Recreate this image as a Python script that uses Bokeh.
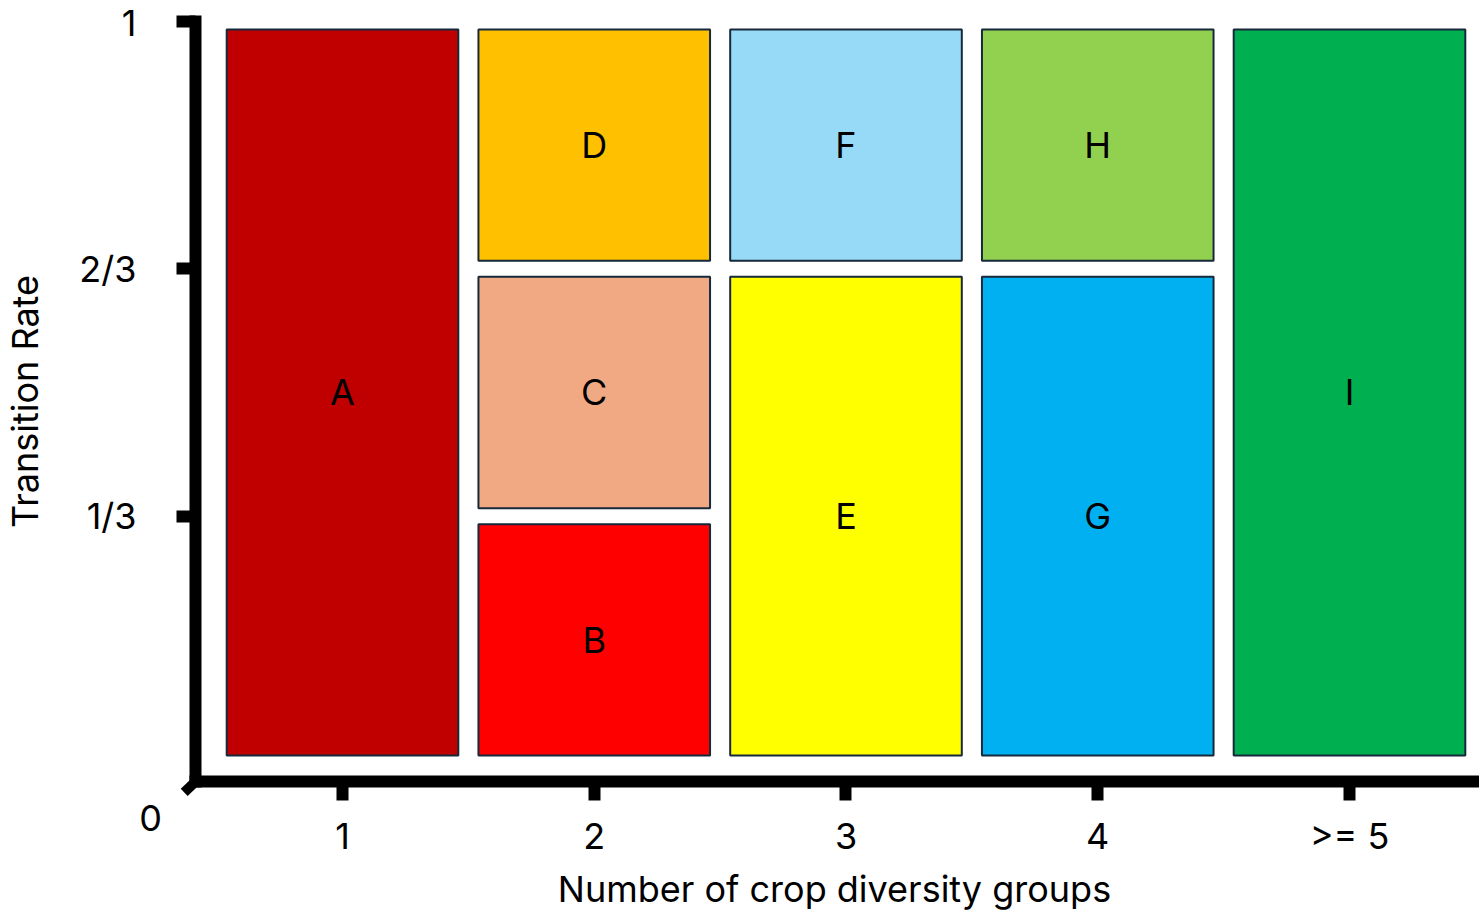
from bokeh.plotting import figure
from bokeh.models import Range1d, FixedTicker, ColumnDataSource, CustomJSTickFormatter
from bokeh.core.properties import value
from bokeh.embed import file_html
from bokeh.resources import INLINE

# ---- data ----
groups = [1, 2, 3, 4, 5]
group_labels = ["1", "2", "3", "4", ">= 5"]

cells = ["A", "B", "C", "D", "E", "F", "G", "H", "I"]
cell_group = [1, 2, 2, 2, 3, 3, 4, 4, 5]
cell_low = [0, 0, 1/3, 2/3, 0, 2/3, 0, 2/3, 0]
cell_high = [1, 1/3, 2/3, 1, 2/3, 1, 2/3, 1, 1]
cell_colors = ["#C00000", "#FF0000", "#F1A983", "#FFC000", "#FFFF00",
               "#97DAF7", "#00B0F0", "#92D050", "#00B050"]

y_ticks = [1/3, 2/3, 1]
y_tick_labels = ["1/3", "2/3", "1"]
origin_label = "0"

FONT = "Inter"
FS = "36px"

# ---- layout (data units) ----
half_w = 0.46          # half width of a column box
pad = 0.0108           # gap between stacked boxes
x_start, x_end = -0.3585, 5.5164
y_start, y_end = -0.2022, 1.0283
yaxis_x = 0.4161       # where the vertical axis is drawn
xaxis_y = -0.0243      # where the horizontal axis is drawn

src = ColumnDataSource(dict(
    left=[g - half_w for g in cell_group],
    right=[g + half_w for g in cell_group],
    bottom=[lo + pad for lo in cell_low],
    top=[hi - pad for hi in cell_high],
    xc=cell_group,
    yc=[(lo + hi) / 2 for lo, hi in zip(cell_low, cell_high)],
    name=cells,
    color=cell_colors,
))

p = figure(width=1479, height=913, output_backend="svg", toolbar_location=None,
           x_range=Range1d(x_start, x_end), y_range=Range1d(y_start, y_end),
           min_border=0)
p.background_fill_color = "white"
p.border_fill_color = "white"
p.outline_line_color = None
p.grid.visible = False

p.quad(left="left", right="right", bottom="bottom", top="top", source=src,
       fill_color="color", line_color="#16293A", line_width=2)
p.text(x="xc", y="yc", text="name", source=src, text_font=value(FONT),
       text_font_size=value(FS), text_align="center", text_baseline="middle",
       text_color="black")

# small diagonal stub at the axes corner
p.line(x=[yaxis_x, yaxis_x - 0.045], y=[xaxis_y, xaxis_y - 0.0145],
       line_color="black", line_width=10)

# ---- x axis ----
xa = p.xaxis[0]
xa.fixed_location = xaxis_y
xa.bounds = (yaxis_x - 0.024, 5.739)
xa.ticker = FixedTicker(ticks=groups)
xa.formatter = CustomJSTickFormatter(args=dict(tvals=groups, tlabels=group_labels), code="""
    const i = tvals.indexOf(Math.round(tick));
    return i >= 0 ? tlabels[i] : '';
""")
xa.axis_label = "Number of crop diversity groups"
xa.axis_line_width = 12
xa.axis_line_color = "black"
xa.major_tick_line_width = 12
xa.major_tick_line_color = "black"
xa.major_tick_out = 19
xa.major_tick_in = 0
xa.minor_tick_line_color = None
xa.major_label_standoff = 13
xa.axis_label_standoff = 6
xa.major_label_text_font = FONT
xa.major_label_text_font_size = FS
xa.major_label_text_color = "black"
xa.axis_label_text_font = FONT
xa.axis_label_text_font_size = FS
xa.axis_label_text_font_style = "normal"
xa.axis_label_text_color = "black"

# ---- y axis ----
ya = p.yaxis[0]
ya.fixed_location = yaxis_x
ya.bounds = (xaxis_y - 0.0081, 1.0081)
ya.ticker = FixedTicker(ticks=y_ticks)
ya.formatter = CustomJSTickFormatter(args=dict(tvals=y_ticks, tlabels=y_tick_labels), code="""
    let best = 0;
    for (let i = 0; i < tvals.length; i++) {
        if (Math.abs(tvals[i] - tick) < Math.abs(tvals[best] - tick)) best = i;
    }
    return tlabels[best];
""")
ya.axis_label = "Transition Rate"
ya.axis_line_width = 12
ya.axis_line_color = "black"
ya.major_tick_line_width = 12
ya.major_tick_line_color = "black"
ya.major_tick_out = 19
ya.major_tick_in = 0
ya.minor_tick_line_color = None
ya.major_label_standoff = 40
ya.axis_label_standoff = 29
ya.major_label_text_font = FONT
ya.major_label_text_font_size = FS
ya.major_label_text_color = "black"
ya.axis_label_text_font = FONT
ya.axis_label_text_font_size = FS
ya.axis_label_text_font_style = "normal"
ya.axis_label_text_color = "black"

# origin label "0" below the axes corner
p.text(x=[yaxis_x], y=[0], text=[origin_label], x_offset=-45, y_offset=55,
       text_font=value(FONT), text_font_size=value(FS), text_align="center",
       text_baseline="middle", text_color="black")

open("out.html", "w").write(file_html(p, INLINE))
